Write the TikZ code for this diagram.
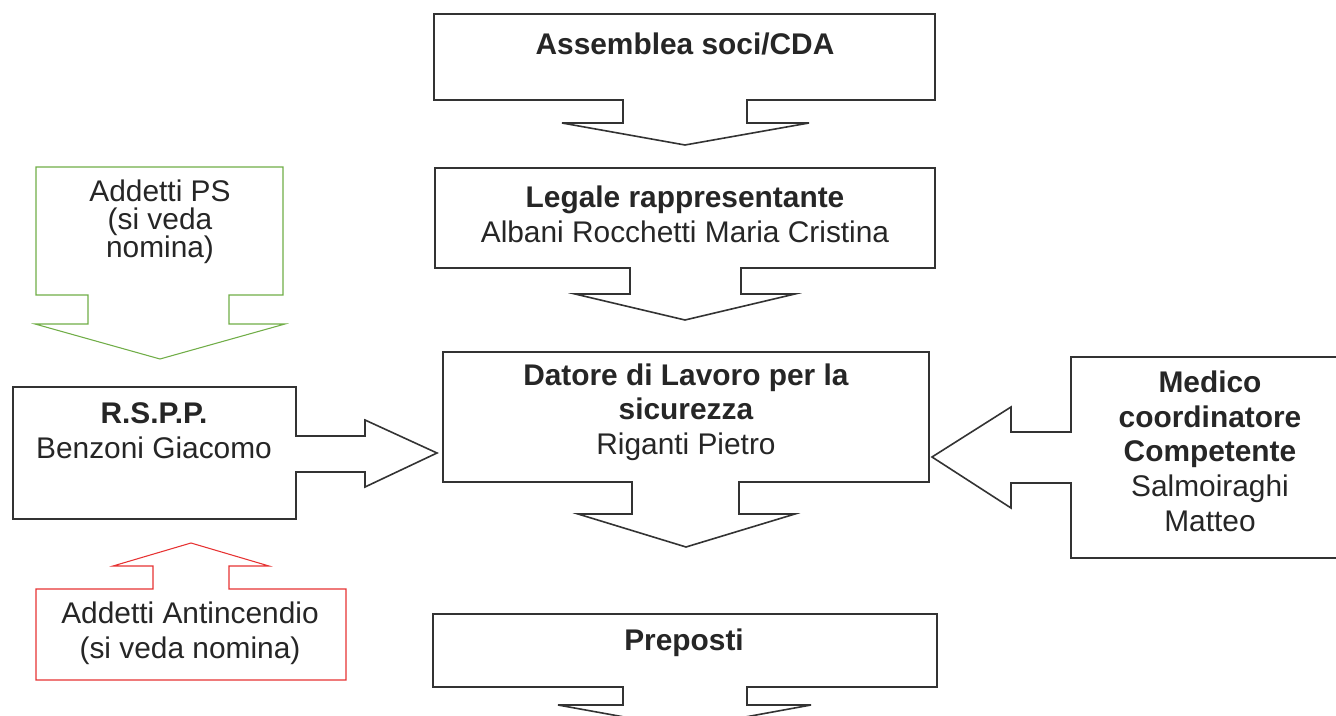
\documentclass[tikz,border=0pt]{standalone}
\usepackage{fontspec}
\setmainfont{Liberation Sans}
\usepackage{xcolor}
\usetikzlibrary{positioning}
\definecolor{psgreen}{RGB}{112,173,71}
\definecolor{firered}{RGB}{230,50,50}

\begin{document}
\begin{tikzpicture}[x=0.75pt, y=-0.75pt,
  box/.style={draw=black!80, line width=1.2pt, line join=miter},
  greenbox/.style={draw=psgreen, line width=0.8pt, line join=miter},
  redbox/.style={draw=firered, line width=0.8pt, line join=miter},
  txt/.style={font=\fontsize{22.4}{26}\selectfont, align=center, inner sep=0pt, text=black!85}
]
\useasboundingbox (0,0) rectangle (1336,716);

% central column
\draw[box] (434,14) -- (935,14) -- (935,100) -- (747,100) -- (747,123) -- (809,123)
  -- (685,145) -- (562,123) -- (623,123) -- (623,100) -- (434,100) -- cycle;
\node[txt] (asm) at (685,44) {\textbf{Assemblea soci/CDA}};

\draw[box] (435,168) -- (935,168) -- (935,268) -- (741,268) -- (741,294) -- (795,294)
  -- (685,320) -- (575,294) -- (630,294) -- (630,268) -- (435,268) -- cycle;
\node[txt] (leg) at (685,214) {\textbf{Legale rappresentante}\\Albani Rocchetti Maria Cristina};

\draw[box] (443,352) -- (929,352) -- (929,482) -- (739,482) -- (739,514) -- (795,514)
  -- (686,547) -- (578,514) -- (632,514) -- (632,482) -- (443,482) -- cycle;
\node[txt] (dat) at (686,412) {\textbf{Datore di Lavoro per la}\\\textbf{sicurezza}\\Riganti Pietro};

\draw[box] (433,614) -- (937,614) -- (937,687) -- (747,687) -- (747,705) -- (811,705)
  -- (685,728) -- (558,705) -- (623,705) -- (623,687) -- (433,687) -- cycle;
\node[txt] (pre) at (684,643) {\textbf{Preposti}};

% left side
\draw[greenbox] (36,167) -- (283,167) -- (283,295) -- (229,295) -- (229,324) -- (285,324)
  -- (160,359) -- (35,324) -- (88,324) -- (88,295) -- (36,295) -- cycle;
\node[txt, font=\fontsize{22.4}{21}\selectfont] (ps) at (160,222) {Addetti PS\\(si veda\\nomina)};

\draw[box] (13,387) -- (296,387) -- (296,436) -- (365,436) -- (365,420) -- (437,453)
  -- (365,487) -- (365,472) -- (296,472) -- (296,519) -- (13,519) -- cycle;
\node[txt] (rspp) at (154,431) {\textbf{R.S.P.P.}\\Benzoni Giacomo};

\draw[redbox] (36,680) -- (36,589) -- (153,589) -- (153,566) -- (113,566) -- (191,543)
  -- (269,566) -- (229,566) -- (229,589) -- (346,589) -- (346,680) -- cycle;
\node[txt] (ant) at (190,633) {Addetti Antincendio\\(si veda nomina)};

% right side
\draw[box] (1340,357) -- (1071,357) -- (1071,432) -- (1011,432) -- (1011,407) -- (932,457)
  -- (1011,508) -- (1011,483) -- (1071,483) -- (1071,558) -- (1340,558);
\node[txt] (med) at (1210,451) {\textbf{Medico}\\\textbf{coordinatore}\\\textbf{Competente}\\Salmoiraghi\\Matteo};

\end{tikzpicture}
\end{document}
